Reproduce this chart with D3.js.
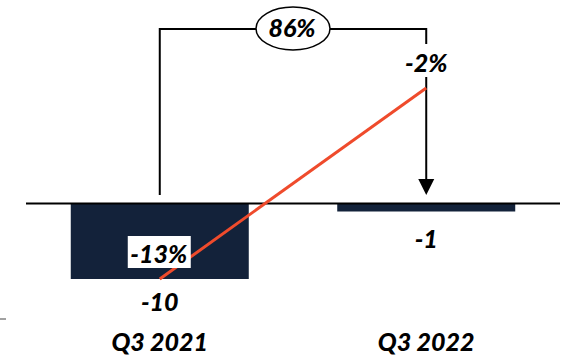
<!DOCTYPE html>
<html>
<head>
<meta charset="utf-8">
<script src="https://cdn.jsdelivr.net/npm/d3@7"></script>
<style>
  html, body { margin: 0; padding: 0; background: #fff; }
  svg { display: block; }
  text { font-family: "Lato", "Open Sans", sans-serif; font-weight: 900; font-style: italic; fill: #000; }
</style>
</head>
<body>
<svg id="chart" width="570" height="357"></svg>
<script>
// Quarterly results and year-on-year margin
const categories = ["Q3 2021", "Q3 2022"];
const values = [-10, -1];
const valueLabels = ["-10", "-1"];
const marginPct = [-13, -2];
const marginLabels = ["-13%", "-2%"];
const changeLabel = "86%";

const W = 570, H = 357;
const svg = d3.select("#chart");

const barColor = "#13223a";
const lineColor = "#ef4b2c";
const fontSize = 25;

const x = d3.scaleBand()
  .domain(categories)
  .range([26, 560])
  .paddingInner(0.332)
  .paddingOuter(0.168);

const y = d3.scaleLinear().domain([-10, 0]).range([279, 204]);
const y2 = d3.scaleLinear().domain([-13, -2]).range([279, 88]);

const cx = c => x(c) + x.bandwidth() / 2;

// bars
svg.append("g").selectAll("rect")
  .data(values)
  .join("rect")
  .attr("x", (d, i) => x(categories[i]))
  .attr("width", x.bandwidth())
  .attr("y", y(0))
  .attr("height", d => y(d) - y(0))
  .attr("fill", barColor);

// zero baseline
svg.append("line")
  .attr("x1", x.range()[0]).attr("x2", x.range()[1])
  .attr("y1", y(0) - 0.5).attr("y2", y(0) - 0.5)
  .attr("stroke", "#000").attr("stroke-width", 2);

// stray axis tick at left
svg.append("line")
  .attr("x1", 0).attr("x2", 6)
  .attr("y1", 319).attr("y2", 319)
  .attr("stroke", "#444").attr("stroke-width", 1);

// bracket connecting the two quarters
const x0 = cx(categories[0]), x1 = cx(categories[1]);
const topY = 29;
const bracket = svg.append("g").attr("stroke", "#000").attr("stroke-width", 2).attr("fill", "none");
bracket.append("path").attr("d", `M${x0},195 V${topY} H${x1} V44`);
bracket.append("path").attr("d", `M${x1},77 V181`);
svg.append("path")
  .attr("d", `M${x1 - 8},179 L${x1 + 8},179 L${x1},195 Z`)
  .attr("fill", "#000");

// change badge
const badgeX = 293;
svg.append("ellipse")
  .attr("cx", badgeX).attr("cy", 28.5)
  .attr("rx", 37).attr("ry", 21.5)
  .attr("fill", "#fff").attr("stroke", "#000").attr("stroke-width", 1.5);
svg.append("text")
  .attr("x", badgeX - 1).attr("y", 37)
  .attr("text-anchor", "middle")
  .attr("font-size", fontSize)
  .text(changeLabel);

// margin line
const line = d3.line()
  .x((d, i) => cx(categories[i]))
  .y(d => y2(d));
svg.append("path")
  .datum(marginPct)
  .attr("d", line)
  .attr("fill", "none")
  .attr("stroke", lineColor)
  .attr("stroke-width", 3);

// margin labels
const m0 = svg.append("g");
m0.append("rect")
  .attr("x", x0 - 32).attr("y", 236)
  .attr("width", 63).attr("height", 32)
  .attr("fill", "#fff");
m0.append("text")
  .attr("x", x0 - 1).attr("y", 263)
  .attr("text-anchor", "middle")
  .attr("font-size", fontSize)
  .text(marginLabels[0]);

svg.append("text")
  .attr("x", x1).attr("y", 72)
  .attr("text-anchor", "middle")
  .attr("font-size", fontSize)
  .text(marginLabels[1]);

// value labels
const valueY = [311, 247.5];
svg.append("g").selectAll("text")
  .data(valueLabels)
  .join("text")
  .attr("x", (d, i) => cx(categories[i]))
  .attr("y", (d, i) => valueY[i])
  .attr("text-anchor", "middle")
  .attr("font-size", fontSize)
  .text(d => d);

// category labels
svg.append("g").selectAll("text")
  .data(categories)
  .join("text")
  .attr("x", d => cx(d))
  .attr("y", 351)
  .attr("text-anchor", "middle")
  .attr("font-size", fontSize)
  .text(d => d);
</script>
</body>
</html>
